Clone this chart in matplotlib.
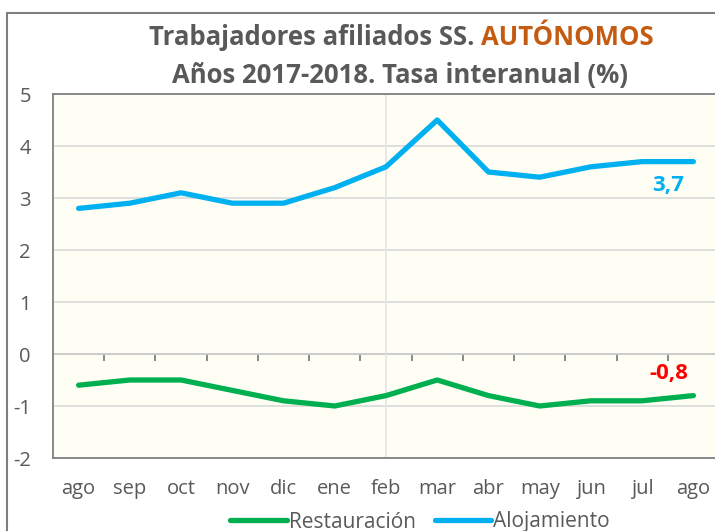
import matplotlib
matplotlib.use("Agg")
import matplotlib.pyplot as plt
from matplotlib.patches import Rectangle

plt.rcParams['font.family'] = ['Open Sans', 'DejaVu Sans']

#-----------------------------------------------------------------------
# datos
meses = ['ago', 'sep', 'oct', 'nov', 'dic', 'ene', 'feb', 'mar', 'abr', 'may', 'jun', 'jul', 'ago']
restauracion = [-0.6, -0.5, -0.5, -0.7, -0.9, -1.0, -0.8, -0.5, -0.8, -1.0, -0.9, -0.9, -0.8]
alojamiento = [2.8, 2.9, 3.1, 2.9, 2.9, 3.2, 3.6, 4.5, 3.5, 3.4, 3.6, 3.7, 3.7]
y_ticks = [-2, -1, 0, 1, 2, 3, 4, 5]

gris = '#595959'
verde = '#00B050'
azul = '#00B0F0'

#-----------------------------------------------------------------------
fig = plt.figure(figsize=(7.15, 5.31), dpi=100)
fig.patch.set_facecolor('white')
fig.patches.append(Rectangle((7/715, -0.1), 1.1, (531-13)/531 + 0.1, transform=fig.transFigure,
                             fill=False, edgecolor='#7F7F7F', linewidth=1.5))

ax = fig.add_axes([53/715, 1-458/531, (719-53)/715, (458-94)/531])
ax.set_facecolor('#FFFEF5')
x = list(range(len(meses)))

ax.set_xlim(-0.5, len(meses) - 0.5)
ax.set_ylim(-2, 5)
ax.set_yticks(y_ticks)
ax.set_yticklabels([str(v) for v in y_ticks])
ax.yaxis.grid(True, color='#D9D9D9', linewidth=1.2)
ax.set_axisbelow(True)
ax.axvline(meses.index('feb'), color='#E3E3E3', linewidth=1.2, zorder=1)

ax.plot(x, restauracion, color=verde, linewidth=3.8, solid_capstyle='round', label='Restauración', zorder=3)
ax.plot(x, alojamiento, color=azul, linewidth=3.8, solid_capstyle='round', label='Alojamiento', zorder=3)

# etiquetas de los meses abajo
ax.set_xticks(x)
ax.set_xticklabels(meses)
ax.tick_params(axis='x', length=0, pad=15, labelsize=14.5, labelcolor=gris)
ax.tick_params(axis='y', length=0, pad=16, labelsize=14.5, labelcolor=gris)

for s in ['left', 'top', 'bottom']:
    ax.spines[s].set_color('#808080')
    ax.spines[s].set_linewidth(1.3)
ax.spines['right'].set_visible(False)

# eje en y=0 con marcas entre categorias
eje0 = ax.secondary_xaxis(2/7)
eje0.set_xticks([i + 0.5 for i in x[:-1]])
eje0.set_xticklabels([])
eje0.tick_params(axis='x', direction='out', length=5, width=1.3, color='#808080')
eje0.spines['bottom'].set_color('#808080')
eje0.spines['bottom'].set_linewidth(1.3)

# valores finales
ax.annotate('3,7', (x[-1], alojamiento[-1]), xytext=(-18, -17), textcoords='offset points',
            ha='center', va='center', color=azul, fontsize=16, fontweight='bold')
ax.annotate('-0,8', (x[-1], restauracion[-1]), xytext=(-18, 16), textcoords='offset points',
            ha='center', va='center', color='red', fontsize=16, fontweight='bold')

# titulo en dos colores
t1 = fig.text(0, 1-37/531, 'Trabajadores afiliados SS. ', color=gris, fontsize=18.5,
              fontweight='bold', ha='left', va='center')
t2 = fig.text(0, 1-37/531, 'AUTÓNOMOS', color='#C55A11', fontsize=18.5,
              fontweight='bold', ha='left', va='center')
fig.text(400/715, 1-76/531, 'Años 2017-2018. Tasa interanual (%)', color=gris, fontsize=18.5,
         fontweight='bold', ha='center', va='center')
fig.canvas.draw()
r = fig.canvas.get_renderer()
w1 = t1.get_window_extent(r).width / 715
w2 = t2.get_window_extent(r).width / 715
x0 = 401/715 - (w1 + w2) / 2
t1.set_x(x0)
t2.set_x(x0 + w1)

fig.legend(loc='center', bbox_to_anchor=(420/715, 1-522/531), ncol=2, frameon=False,
           handlelength=2.7, handletextpad=0.1, columnspacing=0.9, fontsize=15,
           labelcolor=gris)

fig.savefig('out.png', dpi=100)
